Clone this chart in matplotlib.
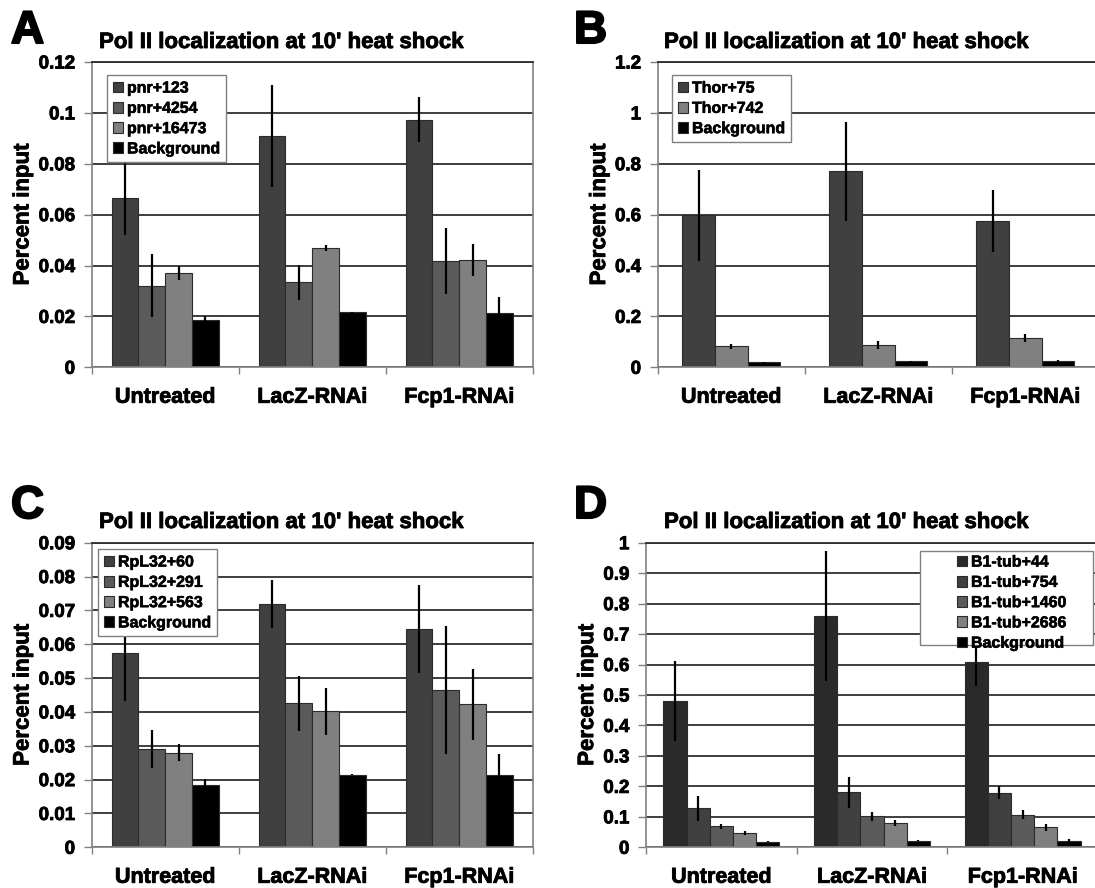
import matplotlib
matplotlib.use("Agg")
import matplotlib.pyplot as plt
import matplotlib.patheffects as pe
from matplotlib.patches import Rectangle
import numpy as np

plt.rcParams['font.family'] = ['Liberation Sans', 'DejaVu Sans']
plt.rcParams['font.weight'] = 'bold'

categories = ["Untreated", "LacZ-RNAi", "Fcp1-RNAi"]
title = "Pol II localization at 10' heat shock"

# Panel A - pnr
a_series = ["pnr+123", "pnr+4254", "pnr+16473", "Background"]
a_pnr123 = [0.0666, 0.0909, 0.0973]
a_pnr4254 = [0.0321, 0.0334, 0.0418]
a_pnr16473 = [0.0371, 0.0469, 0.0423]
a_bg = [0.0185, 0.0216, 0.0214]
a_err_pnr123 = [0.0147, 0.0199, 0.0088]
a_err_pnr4254 = [0.0125, 0.0069, 0.0128]
a_err_pnr16473 = [0.0027, 0.0012, 0.0063]
a_err_bg = [0.0015, 0.0003, 0.0061]
a_ticks = [0, 0.02, 0.04, 0.06, 0.08, 0.1, 0.12]
a_ticklabels = ["0", "0.02", "0.04", "0.06", "0.08", "0.1", "0.12"]

# Panel B - Thor
b_series = ["Thor+75", "Thor+742", "Background"]
b_thor75 = [0.597, 0.770, 0.576]
b_thor742 = [0.0825, 0.0878, 0.115]
b_bg = [0.0197, 0.0236, 0.0236]
b_err_thor75 = [0.180, 0.195, 0.121]
b_err_thor742 = [0.009, 0.015, 0.016]
b_err_bg = [0.002, 0.001, 0.005]
b_ticks = [0, 0.2, 0.4, 0.6, 0.8, 1.0, 1.2]
b_ticklabels = ["0", "0.2", "0.4", "0.6", "0.8", "1", "1.2"]

# Panel C - RpL32
c_series = ["RpL32+60", "RpL32+291", "RpL32+563", "Background"]
c_rpl60 = [0.0573, 0.0719, 0.0645]
c_rpl291 = [0.0290, 0.0425, 0.0465]
c_rpl563 = [0.0280, 0.0402, 0.0422]
c_bg = [0.0184, 0.0215, 0.0213]
c_err_rpl60 = [0.0141, 0.0070, 0.0130]
c_err_rpl291 = [0.0056, 0.0080, 0.0190]
c_err_rpl563 = [0.0026, 0.0069, 0.0106]
c_err_bg = [0.0018, 0.0002, 0.0062]
c_ticks = [0, 0.01, 0.02, 0.03, 0.04, 0.05, 0.06, 0.07, 0.08, 0.09]
c_ticklabels = ["0", "0.01", "0.02", "0.03", "0.04", "0.05", "0.06", "0.07", "0.08", "0.09"]

# Panel D - B1-tub
d_series = ["B1-tub+44", "B1-tub+754", "B1-tub+1460", "B1-tub+2686", "Background"]
d_tub44 = [0.480, 0.759, 0.607]
d_tub754 = [0.1276, 0.181, 0.179]
d_tub1460 = [0.0687, 0.1014, 0.107]
d_tub2686 = [0.0469, 0.0796, 0.0654]
d_bg = [0.0185, 0.0218, 0.0207]
d_err_tub44 = [0.132, 0.214, 0.076]
d_err_tub754 = [0.040, 0.051, 0.021]
d_err_tub1460 = [0.0076, 0.016, 0.014]
d_err_tub2686 = [0.005, 0.011, 0.011]
d_err_bg = [0.002, 0.001, 0.006]
d_ticks = [0, 0.1, 0.2, 0.3, 0.4, 0.5, 0.6, 0.7, 0.8, 0.9, 1.0]
d_ticklabels = ["0", "0.1", "0.2", "0.3", "0.4", "0.5", "0.6", "0.7", "0.8", "0.9", "1"]

W, H = 1095, 888
fig = plt.figure(figsize=(W / 100, H / 100), dpi=100)

heavy = [pe.withStroke(linewidth=0.6, foreground='black')]


def px_rect(left, top, right, bottom):
    return [left / W, 1 - bottom / H, (right - left) / W, (bottom - top) / H]


def panel(rect, series, values, errors, colors, ticks, ticklabels,
          letter, letter_xy, title_xy, ylabel_x, legend_kw, frame_box=None):
    ax = fig.add_axes(rect)
    n = len(series)
    w = 1.0 / (n + 1.5)
    x = np.arange(len(categories))
    handles = []
    for i, (name, vals, errs, col) in enumerate(zip(series, values, errors, colors)):
        pos = x + (i - (n - 1) / 2) * w
        b = ax.bar(pos, vals, width=w, color=col, edgecolor='#2b2b2b',
                   linewidth=0.8, label=name, zorder=2)
        ax.errorbar(pos, vals, yerr=errs, fmt='none', ecolor='black',
                    elinewidth=1.6, capsize=0, zorder=3)
        handles.append(b)
    ax.set_xlim(-0.5, len(categories) - 0.5)
    ax.set_ylim(ticks[0], ticks[-1])
    ax.set_yticks(ticks)
    ax.set_yticklabels(ticklabels)
    ax.set_xticks(x)
    ax.set_xticklabels(categories)
    ax.set_xticks(np.arange(len(categories) + 1) - 0.5, minor=True)
    ax.tick_params(axis='x', which='major', length=0, pad=14, labelsize=15.5)
    ax.tick_params(axis='x', which='minor', length=5, width=1.0, color='#808080', direction='out')
    ax.tick_params(axis='y', which='major', length=6, width=1.0, color='#808080',
                   direction='out', pad=6, labelsize=13.5)
    for lab in ax.get_xticklabels() + ax.get_yticklabels():
        lab.set_fontweight('bold')
        lab.set_path_effects(heavy)
    ax.yaxis.grid(True, color='#2e2e2e', linewidth=1.3, zorder=0)
    ax.set_axisbelow(True)
    for s in ['left', 'bottom', 'right']:
        ax.spines[s].set_color('#808080')
        ax.spines[s].set_linewidth(1.2)
    ax.spines['top'].set_color('#2e2e2e')
    ax.spines['top'].set_linewidth(1.3)
    ax.spines['bottom'].set_zorder(4)
    yl = ax.set_ylabel("Percent input", fontsize=16, fontweight='bold')
    yl.set_path_effects(heavy)
    ax.yaxis.set_label_coords(ylabel_x, 0.5)
    leg = ax.legend(handles=handles, prop={'size': 11.5, 'weight': 'bold'},
                    frameon=frame_box is None, fancybox=False, framealpha=1,
                    edgecolor='#808080', handlelength=0.65, handleheight=0.65,
                    handletextpad=0.25, labelspacing=0.33, borderpad=0.35,
                    borderaxespad=0, bbox_transform=fig.transFigure, **legend_kw)
    leg.get_frame().set_linewidth(1.0)
    leg.set_zorder(10)
    for t in leg.get_texts():
        t.set_path_effects([pe.withStroke(linewidth=0.4, foreground='black')])
    if frame_box is not None:
        l, t, r, bt = frame_box
        ax.add_patch(Rectangle((l / W, 1 - bt / H), (r - l) / W, (bt - t) / H,
                               transform=fig.transFigure, facecolor='white',
                               edgecolor='#808080', linewidth=1.0,
                               clip_on=False, zorder=9))
    fig.text(letter_xy[0] / W, 1 - letter_xy[1] / H, letter, fontsize=33,
             fontweight='bold', ha='left', va='baseline',
             path_effects=[pe.withStroke(linewidth=1.5, foreground='black')])
    fig.text(title_xy[0] / W, 1 - title_xy[1] / H, title, fontsize=16,
             fontweight='bold', ha='left', va='baseline', path_effects=heavy)
    return ax


panel(px_rect(91.7, 62, 532.7, 367.3), a_series,
      [a_pnr123, a_pnr4254, a_pnr16473, a_bg],
      [a_err_pnr123, a_err_pnr4254, a_err_pnr16473, a_err_bg],
      ['#404040', '#5a5a5a', '#808080', '#000000'],
      a_ticks, a_ticklabels, "A", (11, 43), (99, 48), -0.132,
      dict(loc='upper left', bbox_to_anchor=(107 / W, 1 - 75 / H)))

panel(px_rect(657.7, 62, 1098.7, 367.3), b_series,
      [b_thor75, b_thor742, b_bg],
      [b_err_thor75, b_err_thor742, b_err_bg],
      ['#404040', '#808080', '#000000'],
      b_ticks, b_ticklabels, "B", (574, 43), (664, 48), -0.108,
      dict(loc='upper left', bbox_to_anchor=(672 / W, 1 - 75 / H)))

panel(px_rect(91.7, 542.7, 532.7, 847.3), c_series,
      [c_rpl60, c_rpl291, c_rpl563, c_bg],
      [c_err_rpl60, c_err_rpl291, c_err_rpl563, c_err_bg],
      ['#404040', '#5a5a5a', '#808080', '#000000'],
      c_ticks, c_ticklabels, "C", (11, 518), (99, 528), -0.132,
      dict(loc='upper left', bbox_to_anchor=(98 / W, 1 - 549 / H)))

panel(px_rect(646, 542.7, 1098, 847.3), d_series,
      [d_tub44, d_tub754, d_tub1460, d_tub2686, d_bg],
      [d_err_tub44, d_err_tub754, d_err_tub1460, d_err_tub2686, d_err_bg],
      ['#2a2a2a', '#404040', '#5a5a5a', '#808080', '#000000'],
      d_ticks, d_ticklabels, "D", (574, 518), (664, 528), -0.106,
      dict(loc='upper left', bbox_to_anchor=(951 / W, 1 - 549 / H)),
      frame_box=(920, 551, 1093, 645))

fig.savefig("out.png", dpi=100)
